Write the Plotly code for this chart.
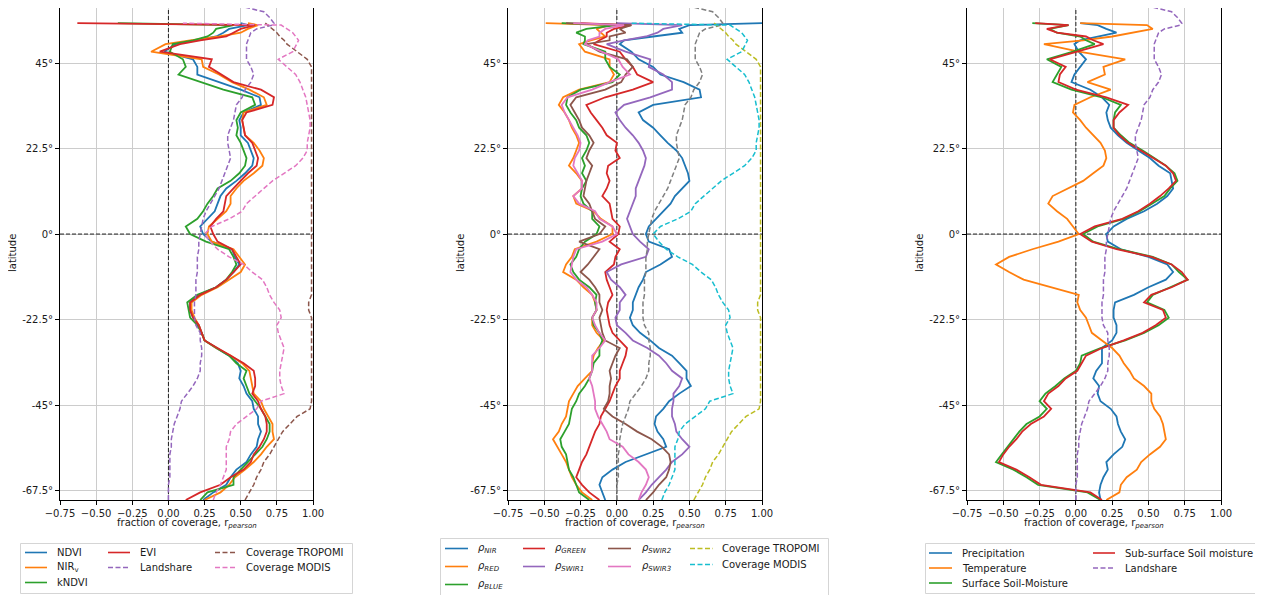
import plotly.graph_objects as go

W, H = 1263, 595
OX, OY = 8, 8            # page body margin of the browser
FW, FH = W - OX, H - OY  # figure size so that it fills the window

# ---------------- data (latitude profiles) ----------------
LAT = [-70, -68, -66, -64, -62, -60, -58, -56, -54, -52,
       -50, -48, -46, -44, -42, -40, -38, -36, -34, -32,
       -30, -28, -26, -24, -22, -20, -18, -16, -14, -12,
       -10, -8, -6, -4, -2, 0, 2, 4, 6, 8,
       10, 12, 14, 16, 18, 20, 22, 24, 26, 28,
       30, 32, 34, 36, 38, 40, 42, 44, 46, 48,
       50, 51, 52, 53, 54, 55, 55.5, 57, 58.5, 60]

LANDSHARE = [0.00, 0.00, 0.00, 0.01, 0.01, 0.01, 0.01, 0.02, 0.02, 0.03,
             0.04, 0.06, 0.08, 0.09, 0.13, 0.17, 0.20, 0.22, 0.22, 0.23,
             0.23, 0.22, 0.22, 0.19, 0.18, 0.18, 0.18, 0.19, 0.19, 0.19,
             0.20, 0.20, 0.20, 0.21, 0.21, 0.22, 0.23, 0.24, 0.26, 0.29,
             0.32, 0.35, 0.37, 0.39, 0.41, 0.43, 0.42, 0.41, 0.41, 0.43,
             0.45, 0.46, 0.47, 0.51, 0.53, 0.57, 0.59, 0.57, 0.54, 0.54,
             0.54, 0.55, 0.56, 0.57, 0.61, 0.72, 0.73, 0.70, 0.66, 0.50]

COV_TROPOMI = [0.53, 0.56, 0.59, 0.61, 0.64, 0.66, 0.70, 0.73, 0.76, 0.79,
               0.84, 0.89, 0.98, 0.99, 0.99, 0.99, 0.99, 0.99, 0.99, 0.99,
               0.99, 0.99, 0.99, 0.99, 0.99, 0.97, 0.97, 0.99, 0.99, 0.99,
               0.99, 0.99, 0.99, 0.99, 0.99, 0.99, 0.99, 0.99, 0.99, 0.99,
               0.99, 0.99, 0.99, 0.99, 0.99, 0.99, 0.99, 0.99, 0.99, 0.99,
               0.99, 0.99, 0.99, 0.99, 0.99, 0.99, 0.99, 0.99, 0.96, 0.89,
               0.82, 0.80, 0.77, 0.75, 0.72, 0.69, 0.67, None, None, None]

COV_MODIS = [0.31, 0.33, 0.36, 0.38, 0.40, 0.40, 0.40, 0.40, 0.42, 0.43,
             0.47, 0.54, 0.61, 0.64, 0.80, 0.78, 0.77, 0.77, 0.78, 0.79,
             0.80, 0.78, 0.76, 0.75, 0.78, 0.77, 0.73, 0.70, 0.68, 0.65,
             0.58, 0.52, 0.42, 0.34, 0.29, 0.25, 0.30, 0.42, 0.51, 0.54,
             0.60, 0.66, 0.72, 0.80, 0.88, 0.93, 0.96, 0.96, 0.97, 0.98,
             0.98, 0.97, 0.96, 0.95, 0.93, 0.91, 0.88, 0.82, 0.76, 0.86,
             0.89, 0.90, 0.88, 0.86, 0.82, 0.78, 0.10, None, None, None]

# panel 1: vegetation indices
NDVI = [0.24, 0.31, 0.40, 0.43, 0.47, 0.54, 0.57, 0.61, 0.62, 0.64,
        0.62, 0.62, 0.59, 0.58, 0.54, 0.52, 0.49, 0.50, 0.48, 0.42,
        0.33, 0.25, 0.23, 0.21, 0.17, 0.15, 0.15, 0.21, 0.33, 0.40,
        0.45, 0.49, 0.46, 0.44, 0.30, 0.24, 0.22, 0.27, 0.32, 0.34,
        0.36, 0.40, 0.47, 0.53, 0.58, 0.59, 0.57, 0.55, 0.50, 0.50,
        0.49, 0.52, 0.64, 0.63, 0.50, 0.35, 0.20, 0.20, 0.17, -0.03,
        0.05, 0.19, 0.33, 0.38, 0.42, 0.55, 0.50, None, None, None]
NIRV = [0.25, 0.36, 0.42, 0.46, 0.53, 0.59, 0.64, 0.68, 0.73, 0.72,
        0.72, 0.69, 0.66, 0.64, 0.59, 0.58, 0.57, 0.56, 0.51, 0.43,
        0.33, 0.25, 0.23, 0.21, 0.18, 0.16, 0.16, 0.23, 0.34, 0.42,
        0.50, 0.53, 0.49, 0.45, 0.30, 0.27, 0.28, 0.34, 0.40, 0.43,
        0.43, 0.47, 0.52, 0.59, 0.65, 0.66, 0.63, 0.59, 0.53, 0.52,
        0.51, 0.52, 0.68, 0.66, 0.56, 0.44, 0.35, 0.24, 0.23, -0.12,
        -0.02, 0.15, 0.35, 0.50, 0.55, 0.62, 0.55, None, None, None]
KNDVI = [0.22, 0.27, 0.45, 0.45, 0.50, 0.55, 0.60, 0.65, 0.68, 0.70,
         0.70, 0.67, 0.64, 0.60, 0.56, 0.54, 0.52, 0.54, 0.47, 0.42,
         0.33, 0.25, 0.23, 0.20, 0.15, 0.14, 0.13, 0.20, 0.33, 0.40,
         0.44, 0.47, 0.45, 0.42, 0.26, 0.15, 0.12, 0.20, 0.24, 0.27,
         0.31, 0.34, 0.43, 0.49, 0.53, 0.54, 0.52, 0.50, 0.47, 0.48,
         0.47, 0.50, 0.60, 0.58, 0.38, 0.22, 0.07, 0.12, 0.10, 0.01,
         0.03, 0.17, 0.27, 0.31, 0.33, 0.45, -0.35, None, None, None]
EVI = [0.12, 0.22, 0.36, 0.43, 0.52, 0.57, 0.59, 0.63, 0.66, 0.68,
       0.68, 0.67, 0.64, 0.62, 0.58, 0.60, 0.60, 0.59, 0.52, 0.43,
       0.33, 0.25, 0.23, 0.21, 0.17, 0.15, 0.15, 0.22, 0.33, 0.40,
       0.45, 0.50, 0.47, 0.44, 0.34, 0.31, 0.29, 0.33, 0.38, 0.39,
       0.40, 0.45, 0.50, 0.55, 0.61, 0.62, 0.60, 0.58, 0.53, 0.52,
       0.51, 0.54, 0.72, 0.73, 0.64, 0.45, 0.36, 0.28, 0.30, -0.06,
       0.08, 0.22, 0.40, 0.45, 0.50, 0.60, -0.63, None, None, None]

# panel 2: surface reflectance bands
R_NIR = [-0.08, -0.10, -0.12, -0.10, -0.03, 0.06, 0.20, 0.34, 0.32, 0.28,
         0.26, 0.27, 0.32, 0.36, 0.43, 0.51, 0.48, 0.48, 0.43, 0.38,
         0.29, 0.23, 0.16, 0.11, 0.09, 0.11, 0.11, 0.13, 0.15, 0.18,
         0.20, 0.30, 0.38, 0.36, 0.22, 0.20, 0.22, 0.27, 0.32, 0.37,
         0.40, 0.45, 0.50, 0.49, 0.47, 0.45, 0.41, 0.35, 0.30, 0.25,
         0.18, 0.15, 0.25, 0.58, 0.57, 0.46, 0.30, 0.25, 0.15, 0.10,
         0.02, 0.05, 0.25, 0.45, 0.43, 0.50, 1.00, None, None, None]
R_RED = [-0.17, -0.24, -0.28, -0.31, -0.33, -0.35, -0.38, -0.41, -0.44, -0.40,
         -0.38, -0.35, -0.34, -0.33, -0.30, -0.27, -0.22, -0.17, -0.17, -0.16,
         -0.13, -0.09, -0.14, -0.17, -0.17, -0.14, -0.15, -0.17, -0.23, -0.28,
         -0.37, -0.35, -0.31, -0.29, -0.14, -0.03, -0.03, -0.11, -0.16, -0.28,
         -0.30, -0.24, -0.24, -0.28, -0.33, -0.30, -0.28, -0.26, -0.28, -0.31,
         -0.33, -0.36, -0.40, -0.37, -0.26, -0.05, -0.02, -0.05, -0.05, -0.22,
         -0.26, -0.18, -0.08, -0.11, -0.14, -0.05, -0.49, None, None, None]
R_BLUE = [-0.19, -0.26, -0.28, -0.30, -0.33, -0.34, -0.35, -0.38, -0.39, -0.36,
          -0.33, -0.32, -0.31, -0.28, -0.26, -0.22, -0.19, -0.17, -0.16, -0.12,
          -0.12, -0.10, -0.12, -0.16, -0.17, -0.14, -0.15, -0.14, -0.19, -0.26,
          -0.30, -0.32, -0.28, -0.26, -0.22, -0.14, -0.12, -0.17, -0.17, -0.23,
          -0.25, -0.24, -0.21, -0.24, -0.22, -0.24, -0.21, -0.19, -0.21, -0.26,
          -0.28, -0.32, -0.35, -0.34, -0.25, -0.03, 0.02, -0.05, -0.08, -0.08,
          -0.23, -0.22, -0.22, -0.28, -0.21, 0.00, -0.38, None, None, None]
R_GREEN = [-0.12, -0.19, -0.24, -0.28, -0.26, -0.24, -0.21, -0.19, -0.17, -0.15,
           -0.12, -0.11, -0.08, -0.05, -0.03, -0.01, 0.02, 0.02, 0.04, 0.06,
           0.07, 0.02, -0.03, -0.05, -0.06, -0.07, -0.06, -0.03, -0.05, -0.07,
           -0.08, -0.02, -0.01, 0.02, -0.05, 0.01, 0.02, -0.03, -0.04, -0.05,
           -0.10, -0.07, -0.05, -0.07, -0.06, 0.02, -0.01, 0.00, -0.07, -0.10,
           -0.14, -0.18, -0.21, -0.08, 0.11, 0.25, 0.14, 0.11, 0.06, 0.02,
           -0.16, -0.12, -0.07, -0.07, -0.02, 0.10, -0.25, None, None, None]
R_SWIR1 = [0.15, 0.20, 0.24, 0.29, 0.34, 0.38, 0.45, 0.50, 0.45, 0.41,
           0.40, 0.38, 0.38, 0.39, 0.39, 0.43, 0.45, 0.38, 0.34, 0.29,
           0.21, 0.11, 0.06, 0.00, -0.01, 0.02, 0.02, 0.06, 0.02, -0.04,
           -0.07, 0.03, 0.20, 0.22, 0.16, 0.11, 0.09, 0.07, 0.09, 0.11,
           0.13, 0.13, 0.15, 0.17, 0.19, 0.20, 0.18, 0.15, 0.11, 0.06,
           0.02, -0.01, 0.05, 0.23, 0.38, 0.38, 0.32, 0.22, 0.23, 0.06,
           -0.07, 0.05, 0.20, 0.28, 0.32, 0.45, 0.00, None, None, None]
R_SWIR2 = [0.20, 0.25, 0.29, 0.34, 0.36, 0.37, 0.36, 0.31, 0.24, 0.14,
           0.06, -0.03, -0.09, -0.06, -0.05, -0.05, -0.04, -0.05, -0.03, -0.01,
           0.02, -0.08, -0.10, -0.11, -0.12, -0.10, -0.12, -0.12, -0.15, -0.19,
           -0.25, -0.20, -0.16, -0.12, -0.26, -0.12, -0.08, -0.15, -0.17, -0.19,
           -0.23, -0.22, -0.21, -0.19, -0.17, -0.21, -0.19, -0.16, -0.19, -0.24,
           -0.26, -0.29, -0.32, -0.28, -0.08, 0.03, 0.06, 0.11, 0.07, -0.12,
           -0.21, -0.05, -0.05, 0.06, 0.02, 0.10, -0.35, None, None, None]
R_SWIR3 = [0.15, 0.17, 0.20, 0.22, 0.20, 0.15, 0.08, 0.04, -0.05, -0.07,
           -0.10, -0.13, -0.15, -0.15, -0.16, -0.17, -0.19, -0.17, -0.17, -0.17,
           -0.12, -0.08, -0.12, -0.15, -0.17, -0.14, -0.14, -0.17, -0.21, -0.28,
           -0.32, -0.31, -0.30, -0.28, -0.10, 0.00, -0.03, -0.12, -0.15, -0.26,
           -0.30, -0.24, -0.24, -0.27, -0.30, -0.29, -0.26, -0.25, -0.27, -0.30,
           -0.33, -0.36, -0.38, -0.34, -0.17, -0.05, 0.09, 0.04, 0.01, -0.10,
           -0.22, -0.20, -0.12, -0.12, -0.08, 0.05, -0.30, None, None, None]

# panel 3: climate drivers
PRECIP = [0.17, 0.16, 0.17, 0.19, 0.22, 0.21, 0.26, 0.32, 0.34, 0.31,
          0.29, 0.28, 0.24, 0.17, 0.15, 0.16, 0.12, 0.14, 0.18, 0.18,
          0.18, 0.25, 0.28, 0.28, 0.26, 0.26, 0.27, 0.40, 0.50, 0.62,
          0.67, 0.63, 0.50, 0.31, 0.22, 0.21, 0.26, 0.35, 0.47, 0.56,
          0.63, 0.67, 0.66, 0.65, 0.57, 0.51, 0.43, 0.35, 0.29, 0.24,
          0.22, 0.21, 0.23, 0.18, 0.10, -0.03, -0.01, 0.03, 0.07, 0.02,
          -0.01, 0.03, 0.15, 0.28, 0.21, 0.15, 0.03, None, None, None]
TEMP = [0.21, 0.30, 0.31, 0.35, 0.42, 0.45, 0.51, 0.58, 0.62, 0.61,
        0.60, 0.58, 0.54, 0.52, 0.52, 0.47, 0.40, 0.37, 0.33, 0.30,
        0.25, 0.18, 0.11, 0.09, 0.07, 0.03, 0.01, 0.02, -0.17, -0.36,
        -0.46, -0.55, -0.46, -0.30, -0.12, 0.02, -0.02, -0.06, -0.13, -0.19,
        -0.16, -0.05, 0.05, 0.12, 0.19, 0.21, 0.20, 0.17, 0.12, 0.07,
        0.03, -0.02, -0.01, 0.10, 0.24, 0.08, 0.20, 0.19, 0.34, 0.02,
        -0.22, 0.05, 0.25, 0.40, 0.53, 0.49, 0.03, None, None, None]
SURF_SM = [0.17, 0.08, -0.26, -0.34, -0.43, -0.55, -0.51, -0.47, -0.43, -0.39,
           -0.34, -0.25, -0.20, -0.25, -0.21, -0.14, -0.08, 0.00, 0.03, 0.04,
           0.17, 0.34, 0.47, 0.57, 0.64, 0.61, 0.49, 0.53, 0.65, 0.77,
           0.71, 0.66, 0.53, 0.30, 0.12, 0.05, 0.15, 0.33, 0.44, 0.53,
           0.61, 0.65, 0.70, 0.68, 0.62, 0.54, 0.46, 0.37, 0.31, 0.26,
           0.26, 0.27, 0.31, 0.18, -0.03, -0.16, -0.13, -0.10, -0.20, -0.02,
           0.13, 0.07, 0.03, -0.13, -0.18, -0.05, -0.30, None, None, None]
SUB_SM = [0.18, 0.10, -0.24, -0.32, -0.41, -0.53, -0.50, -0.46, -0.41, -0.37,
          -0.31, -0.22, -0.17, -0.22, -0.19, -0.12, -0.07, 0.01, 0.04, 0.07,
          0.18, 0.33, 0.46, 0.55, 0.62, 0.60, 0.47, 0.52, 0.66, 0.77,
          0.73, 0.66, 0.52, 0.28, 0.11, 0.03, 0.13, 0.32, 0.43, 0.51,
          0.58, 0.64, 0.69, 0.67, 0.62, 0.53, 0.45, 0.36, 0.30, 0.26,
          0.26, 0.30, 0.36, 0.21, 0.00, -0.12, -0.11, -0.07, -0.18, 0.00,
          0.19, 0.12, 0.07, -0.13, -0.20, -0.05, -0.28, None, None, None]

X_TICKS = [-0.75, -0.50, -0.25, 0.00, 0.25, 0.50, 0.75, 1.00]
X_TICKTEXT = ["\u22120.75", "\u22120.50", "\u22120.25", "0.00", "0.25", "0.50", "0.75", "1.00"]
Y_TICKS = [-67.5, -45, -22.5, 0, 22.5, 45]
Y_TICKTEXT = ["-67.5\u00b0", "-45\u00b0", "-22.5\u00b0", "0\u00b0", "22.5\u00b0", "45\u00b0"]
X_RANGE = [-0.75, 1.0]
Y_RANGE = [-70, 59.5]

# ---------------- styling ----------------
C = ['#1f77b4', '#ff7f0e', '#2ca02c', '#d62728', '#9467bd',
     '#8c564b', '#e377c2', '#7f7f7f', '#bcbd22', '#17becf']
DASH = "5px,2.5px"
FONT = "DejaVu Sans"
TXT = "#1a1a1a"


def px(x):
    return (x - OX) / FW


def py(y):
    return min(1.0, max(0.0, 1 - (y - OY) / FH))


def pyu(y):
    return 1 - (y - OY) / FH


panels = [
    dict(xa='x', ya='y', dom=(60, 313), series=[
        (NDVI, C[0], 'solid'), (NIRV, C[1], 'solid'), (KNDVI, C[2], 'solid'), (EVI, C[3], 'solid'),
        (LANDSHARE, C[4], DASH), (COV_TROPOMI, C[5], DASH), (COV_MODIS, C[6], DASH)]),
    dict(xa='x2', ya='y2', dom=(508, 762), series=[
        (R_NIR, C[0], 'solid'), (R_RED, C[1], 'solid'), (R_BLUE, C[2], 'solid'), (R_GREEN, C[3], 'solid'),
        (R_SWIR1, C[4], 'solid'), (R_SWIR2, C[5], 'solid'), (R_SWIR3, C[6], 'solid'),
        (LANDSHARE, C[7], DASH), (COV_TROPOMI, C[8], DASH), (COV_MODIS, C[9], DASH)]),
    dict(xa='x3', ya='y3', dom=(967, 1221), series=[
        (PRECIP, C[0], 'solid'), (TEMP, C[1], 'solid'), (SURF_SM, C[2], 'solid'), (SUB_SM, C[3], 'solid'),
        (LANDSHARE, C[4], DASH)]),
]

Y_TOP_PX, Y_BOT_PX = 8, 500

fig = go.Figure()
layout = dict(width=FW, height=FH, margin=dict(l=0, r=0, t=0, b=0, pad=0),
              paper_bgcolor='white', plot_bgcolor='white', showlegend=False,
              font=dict(family=FONT, size=10, color=TXT))

shapes = []
annotations = []

for i, p in enumerate(panels):
    # dashed zero reference lines (drawn first, under the data)
    fig.add_trace(go.Scatter(x=[0, 0], y=Y_RANGE, mode='lines', xaxis=p['xa'], yaxis=p['ya'],
                             line=dict(color='#222222', width=1, dash='4px,2px'), hoverinfo='skip'))
    fig.add_trace(go.Scatter(x=X_RANGE, y=[0, 0], mode='lines', xaxis=p['xa'], yaxis=p['ya'],
                             line=dict(color='#222222', width=1, dash='4px,2px'), hoverinfo='skip'))
    for vals, col, dash in p['series']:
        fig.add_trace(go.Scatter(x=vals, y=LAT, mode='lines', xaxis=p['xa'], yaxis=p['ya'],
                                 line=dict(color=col, width=1.5 if dash != 'solid' else 1.8, dash=dash),
                                 connectgaps=False, hoverinfo='skip'))
    sfx = '' if i == 0 else str(i + 1)
    x0p, x1p = p['dom']
    layout['xaxis' + sfx] = dict(
        domain=[px(x0p), px(x1p)], anchor=p['ya'], range=X_RANGE,
        tickvals=X_TICKS, ticktext=X_TICKTEXT, showgrid=True, gridcolor='#cccccc', gridwidth=1,
        zeroline=False, showline=True, linecolor='black', linewidth=1,
        ticks='outside', ticklen=4, tickcolor='black', automargin=False,
        tickfont=dict(family=FONT, size=10, color=TXT))
    layout['yaxis' + sfx] = dict(
        domain=[py(Y_BOT_PX), py(Y_TOP_PX)], anchor=p['xa'], range=Y_RANGE,
        tickvals=Y_TICKS, ticktext=Y_TICKTEXT, showgrid=True, gridcolor='#cccccc', gridwidth=1,
        zeroline=False, showline=True, mirror=True, linecolor='black', linewidth=1,
        ticks='outside', ticklen=4, tickcolor='black', automargin=False,
        tickfont=dict(family=FONT, size=10, color=TXT))
    # axis titles
    annotations.append(dict(xref='paper', yref='paper', x=px((x0p + x1p) / 2), y=py(523),
                            text='fraction of coverage, r<sub><i>pearson</i></sub>', showarrow=False,
                            xanchor='center', yanchor='middle', font=dict(family=FONT, size=10, color=TXT)))
    annotations.append(dict(xref='paper', yref='paper', x=px(x0p - 48), y=py(253),
                            text='latitude', textangle=-90, showarrow=False,
                            xanchor='center', yanchor='middle', font=dict(family=FONT, size=10, color=TXT)))


def legend(box, items):
    bx0, by0, bx1, by1 = box
    shapes.append(dict(type='rect', xref='paper', yref='paper', x0=px(bx0), x1=px(bx1),
                       y0=pyu(by1), y1=pyu(by0), line=dict(color='#d5d5d5', width=1),
                       fillcolor='white', layer='above'))
    for label, col, dash, lx0, lx1, tx, y in items:
        shapes.append(dict(type='line', xref='paper', yref='paper', x0=px(lx0), x1=px(lx1),
                           y0=pyu(y), y1=pyu(y), line=dict(color=col, width=1.6, dash=dash), layer='above'))
        annotations.append(dict(xref='paper', yref='paper', x=px(tx), y=pyu(y), text=label,
                                showarrow=False, xanchor='left', yanchor='middle',
                                font=dict(family=FONT, size=10, color=TXT)))


legend((20.5, 543.5, 352.5, 593.5), [
    ('NDVI', C[0], 'solid', 25, 47, 55, 552.5),
    ('NIR<sub>v</sub>', C[1], 'solid', 25, 47, 55, 567.5),
    ('kNDVI', C[2], 'solid', 25, 47, 55, 582.5),
    ('EVI', C[3], 'solid', 108, 130, 138, 552.5),
    ('Landshare', C[4], DASH, 108, 130, 138, 567.5),
    ('Coverage TROPOMI', C[5], DASH, 215, 237, 244, 552.5),
    ('Coverage MODIS', C[6], DASH, 215, 237, 244, 567.5),
])

legend((440.5, 538.5, 828.5, 600), [
    ('<i>ρ<sub>NIR</sub></i>', C[0], 'solid', 445, 468, 476, 548.5),
    ('<i>ρ<sub>RED</sub></i>', C[1], 'solid', 445, 468, 476, 566.5),
    ('<i>ρ<sub>BLUE</sub></i>', C[2], 'solid', 445, 468, 476, 584.5),
    ('<i>ρ<sub>GREEN</sub></i>', C[3], 'solid', 523, 545, 553, 548.5),
    ('<i>ρ<sub>SWIR1</sub></i>', C[4], 'solid', 523, 545, 553, 566.5),
    ('<i>ρ<sub>SWIR2</sub></i>', C[5], 'solid', 608, 631, 640, 548.5),
    ('<i>ρ<sub>SWIR3</sub></i>', C[6], 'solid', 608, 631, 640, 566.5),
    ('Coverage TROPOMI', C[8], DASH, 690, 713, 720, 548.5),
    ('Coverage MODIS', C[9], DASH, 690, 713, 720, 564.5),
])

legend((925.5, 543.5, 1261.5, 593.5), [
    ('Precipitation', C[0], 'solid', 929, 952, 960, 553),
    ('Temperature', C[1], 'solid', 929, 952, 960, 568),
    ('Surface Soil-Moisture', C[2], 'solid', 929, 952, 960, 583),
    ('Sub-surface Soil moisture', C[3], 'solid', 1093, 1115, 1123, 553),
    ('Landshare', C[4], DASH, 1093, 1115, 1123, 568),
])

layout['shapes'] = shapes
layout['annotations'] = annotations
fig.update_layout(**layout)
fig.write_html("out.html")
